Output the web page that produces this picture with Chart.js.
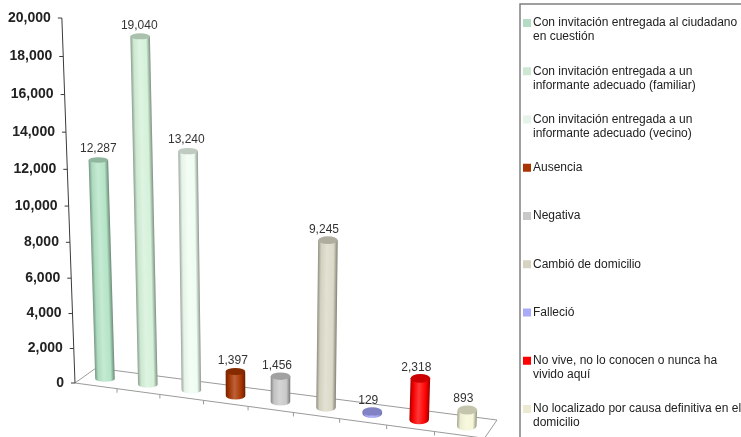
<!DOCTYPE html>
<html>
<head>
<meta charset="utf-8">
<title>Chart</title>
<script src="https://cdn.jsdelivr.net/npm/chart.js@4"></script>
<style>
    html, body { margin: 0; padding: 0; background: #fff; }
    canvas { display: block; filter: blur(0.45px); }
</style>
</head>
<body>
<canvas id="chart" width="741" height="437"></canvas>
<script>
var categories = [
    ['Con invitación entregada al ciudadano', 'en cuestión'],
    ['Con invitación entregada a un', 'informante adecuado (familiar)'],
    ['Con invitación entregada a un', 'informante adecuado (vecino)'],
    ['Ausencia'],
    ['Negativa'],
    ['Cambió de domicilio'],
    ['Falleció'],
    ['No vive, no lo conocen o nunca ha', 'vivido aquí'],
    ['No localizado por causa definitiva en el', 'domicilio']
];
var values = [12287, 19040, 13240, 1397, 1456, 9245, 129, 2318, 893];
var yTickValues = [0, 2000, 4000, 6000, 8000, 10000, 12000, 14000, 16000, 18000, 20000];
var yTickLabels = ['0', '2,000', '4,000', '6,000', '8,000', '10,000', '12,000', '14,000', '16,000', '18,000', '20,000'];
var barColors = ['#b4e4c6', '#d4f1d9', '#effdf1', '#a83400', '#c9c9c9', '#dbd9c6', '#a0a2f5', '#ff0000', '#f6f6d8'];
var legendColors = ['#b4dcc4', '#cfe8d4', '#e6f3e8', '#a83400', '#c9c9c9', '#d6d4c0', '#a9abf8', '#ff0000', '#ecebcf'];

function mix(hex, amount) {
    var r = parseInt(hex.substr(1, 2), 16);
    var g = parseInt(hex.substr(3, 2), 16);
    var b = parseInt(hex.substr(5, 2), 16);
    var t = amount < 0 ? 0 : 255;
    var a = Math.abs(amount);
    return 'rgb(' + Math.round(r + (t - r) * a) + ',' + Math.round(g + (t - g) * a) + ',' + Math.round(b + (t - b) * a) + ')';
}

// the picture is a perspective view, so scale pixels get mapped onto the tilted plot
function project(chart, px, py) {
    var area = chart.chartArea;
    var d = (px - area.left) / (area.width / categories.length) - 0.5;
    var baseX = 105 + 42.5 * d + 0.34 * d * d;
    var baseY = 379 + 0.13 * (baseX - 105);
    var f = (area.bottom - py) / area.height;
    var h = f * (342.8 + 22.2 * f) * (1 + 0.00012 * (baseX - 105));
    var tilt = 0.036 - 0.00019 * (baseX - 75);
    return { x: baseX - tilt * h, y: baseY - h, baseX: baseX, baseY: baseY };
}

function frontEdge(i) {
    var x = 75 + 41.6 * i + 0.417 * i * i;
    return { x: x, y: 383 + 0.135 * (x - 75) };
}

function axisPoint(chart, py) {
    var area = chart.chartArea;
    var f = (area.bottom - py) / area.height;
    var h = f * (342.8 + 22.2 * f);
    return { x: 75 - 0.036 * h, y: 383 - h };
}

// bars are drawn as cylinders from the values the bar controller worked out
Chart.BarElement.prototype.draw = function(ctx) {
    var chart = Chart.getChart(ctx.canvas);
    var bottom = project(chart, this.x, this.base);
    var top = project(chart, this.x, this.y);
    var color = this.options.backgroundColor;
    var rx = this.width / 2;
    var ry = 2.8 + 0.005 * (bottom.baseX - 105);
    var height = top.y - bottom.y;
    var shear = (top.x - bottom.x) / height;

    // side of the cylinder, sheared so the shading follows the tilt
    ctx.save();
    ctx.translate(bottom.x, bottom.y);
    ctx.transform(1, 0, shear, 1, 0, 0);
    var grad = ctx.createLinearGradient(-rx, 0, rx, 0);
    grad.addColorStop(0, mix(color, -0.34));
    grad.addColorStop(0.16, mix(color, -0.04));
    grad.addColorStop(0.45, mix(color, 0.22));
    grad.addColorStop(0.8, color);
    grad.addColorStop(1, mix(color, -0.4));
    ctx.beginPath();
    ctx.moveTo(-rx, height);
    ctx.lineTo(-rx, 0);
    ctx.ellipse(0, 0, rx, ry, 0, Math.PI, 0, true);
    ctx.lineTo(rx, height);
    ctx.closePath();
    ctx.fillStyle = grad;
    ctx.fill();
    ctx.restore();

    ctx.save();
    ctx.beginPath();
    ctx.ellipse(top.x, top.y, rx, ry, 0, 0, Math.PI * 2);
    ctx.fillStyle = mix(color, -0.2);
    ctx.fill();
    ctx.restore();
};

var perspectivePlugin = {
    id: 'perspective',
    beforeDatasetsDraw: function(chart) {
        var ctx = chart.ctx;
        var area = chart.chartArea;
        var yScale = chart.scales.y;
        var first = frontEdge(0);
        var last = frontEdge(categories.length);

        ctx.save();
        // floor
        ctx.strokeStyle = '#9a9a9a';
        ctx.lineWidth = 1;
        ctx.beginPath();
        ctx.moveTo(first.x, first.y);
        ctx.lineTo(96, 368);
        ctx.lineTo(497, 420);
        ctx.lineTo(last.x, last.y + 2);
        ctx.moveTo(first.x, first.y);
        ctx.lineTo(last.x, last.y);
        for (var i = 1; i <= categories.length; i++) {
            var p = frontEdge(i);
            ctx.moveTo(p.x, p.y);
            ctx.lineTo(p.x, p.y + 4);
        }
        ctx.stroke();

        // value axis
        var axisTop = axisPoint(chart, area.top);
        var axisBottom = axisPoint(chart, area.bottom);
        ctx.strokeStyle = '#3a3a3a';
        ctx.beginPath();
        ctx.moveTo(axisTop.x, axisTop.y);
        ctx.lineTo(axisBottom.x, axisBottom.y);
        ctx.font = 'bold 14px "Liberation Sans"';
        ctx.fillStyle = '#222';
        ctx.textAlign = 'right';
        ctx.textBaseline = 'middle';
        yTickValues.forEach(function(v, idx) {
            var t = axisPoint(chart, yScale.getPixelForValue(v));
            ctx.moveTo(t.x, t.y);
            ctx.lineTo(t.x - 4, t.y);
            ctx.fillText(yTickLabels[idx], t.x - 11, t.y);
        });
        ctx.stroke();
        ctx.restore();
    },
    afterDatasetsDraw: function(chart) {
        var ctx = chart.ctx;
        var meta = chart.getDatasetMeta(0);

        ctx.save();
        // value labels
        ctx.font = '12px "Liberation Sans"';
        ctx.fillStyle = '#333';
        ctx.textAlign = 'center';
        ctx.textBaseline = 'middle';
        meta.data.forEach(function(bar, i) {
            var top = project(chart, bar.x, bar.y);
            var shift = Math.min(4, 0.02 * (top.baseX - 105));
            ctx.fillText(values[i].toLocaleString('en-US'), top.x - shift, top.y - 11);
        });

        // legend
        ctx.strokeStyle = '#808080';
        ctx.lineWidth = 1.5;
        ctx.beginPath();
        ctx.moveTo(741, 4);
        ctx.lineTo(520, 4);
        ctx.lineTo(520, 437);
        ctx.stroke();
        ctx.font = '12px "Liberation Sans"';
        ctx.textAlign = 'left';
        categories.forEach(function(lines, i) {
            var y = 23 + i * 48.25;
            ctx.fillStyle = legendColors[i];
            ctx.fillRect(523, y - 4, 8, 8);
            ctx.fillStyle = '#222';
            lines.forEach(function(line, n) {
                ctx.fillText(line, 533, y + n * 14);
            });
        });
        ctx.restore();
    }
};

new Chart(document.getElementById('chart'), {
    type: 'bar',
    data: {
        labels: categories,
        datasets: [{
            data: values,
            backgroundColor: barColors,
            barPercentage: 0.46,
            categoryPercentage: 1,
            clip: false
        }]
    },
    options: {
        responsive: false,
        animation: false,
        layout: { padding: { left: 83.75, right: 274.75, top: 18, bottom: 54 } },
        plugins: { legend: { display: false }, tooltip: { enabled: false } },
        scales: {
            x: { display: false },
            y: { display: false, min: 0, max: 20000, ticks: { stepSize: 2000 } }
        }
    },
    plugins: [perspectivePlugin]
});
</script>
</body>
</html>
